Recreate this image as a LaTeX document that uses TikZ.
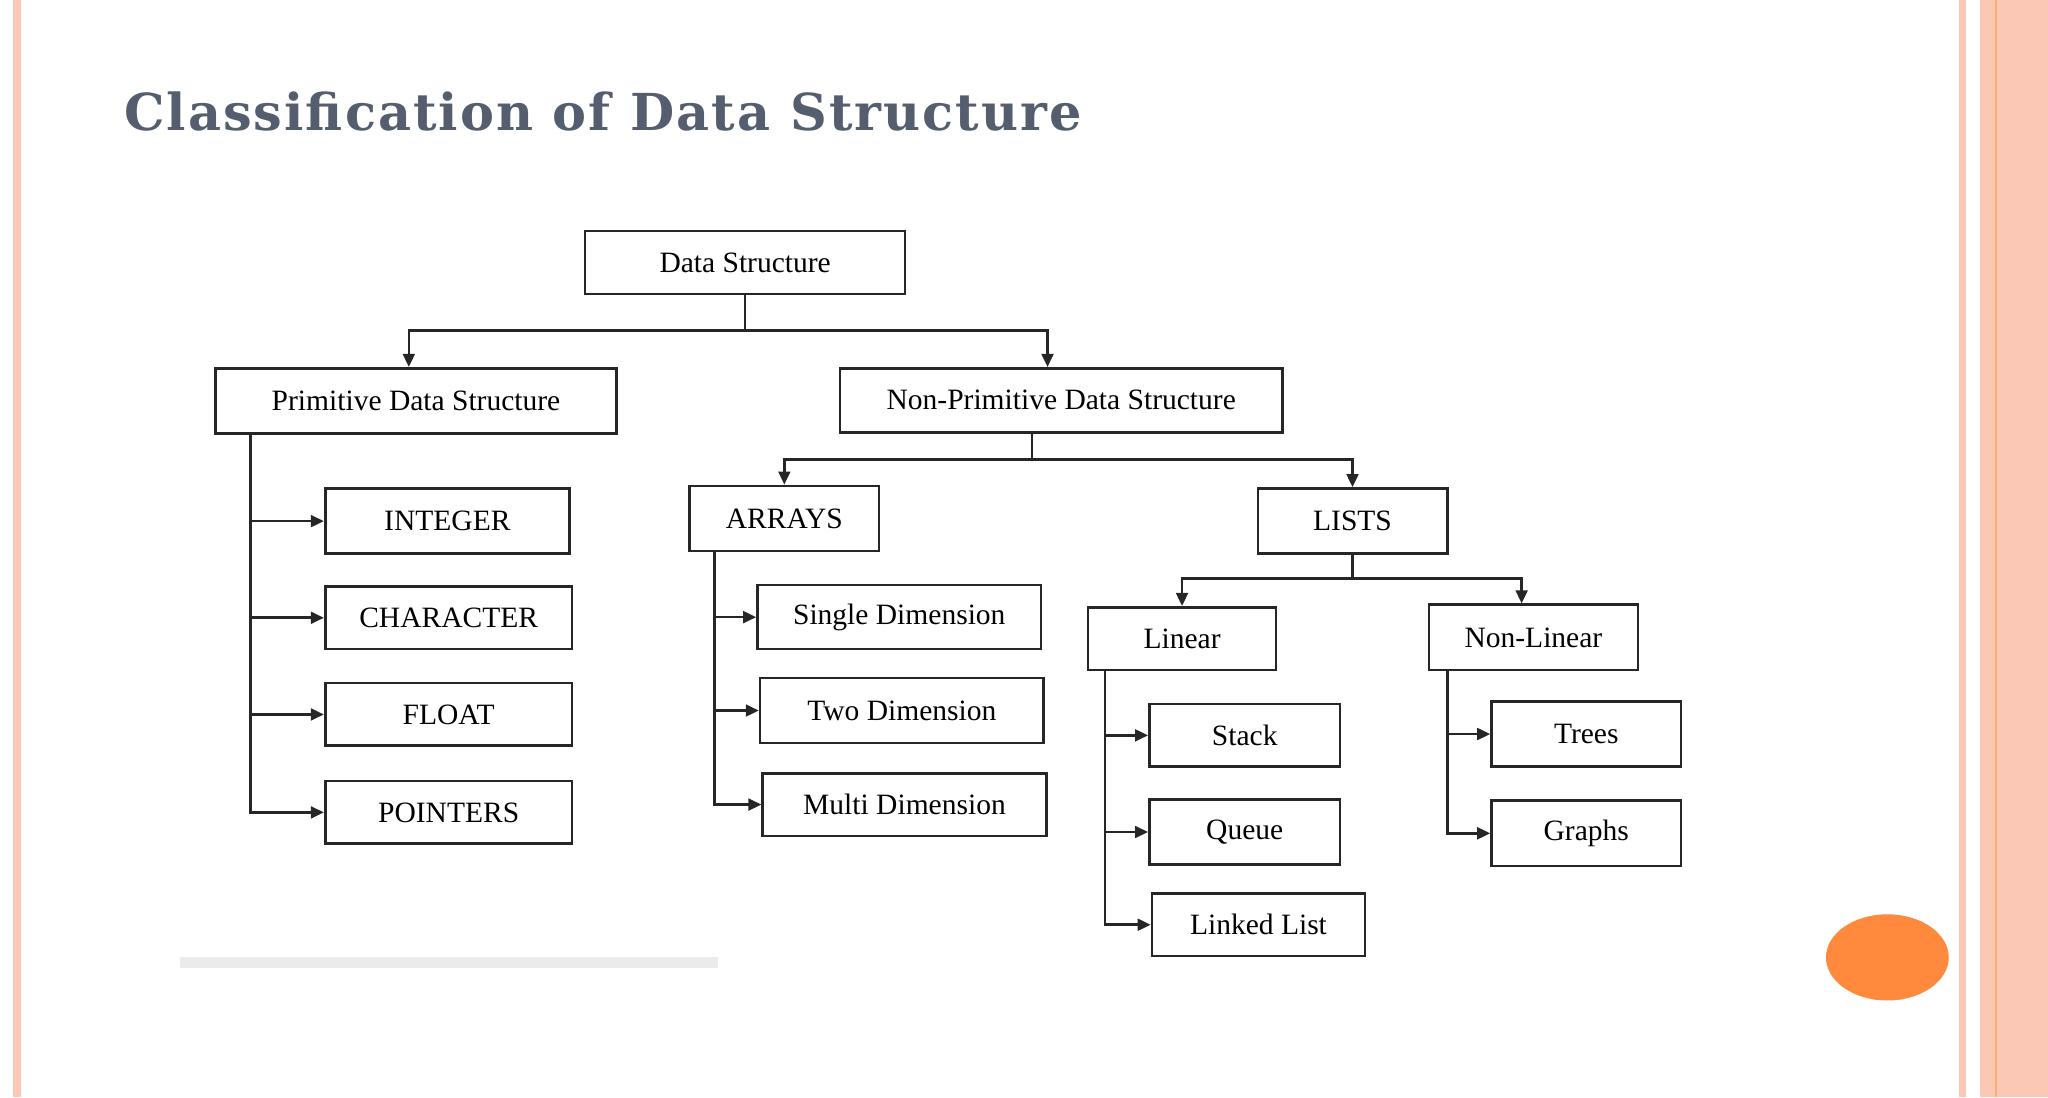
\documentclass[tikz,border=0pt]{standalone}
\usepackage{fontspec}
\setmainfont{Liberation Serif}
\newfontfamily\titlefont[LetterSpace=4]{DejaVu Serif}
\usetikzlibrary{arrows.meta}
\definecolor{pinkbar}{HTML}{FAC8B4}
\definecolor{orng}{HTML}{FF8A3D}
\definecolor{ttl}{HTML}{555E6E}
\begin{document}
\begin{tikzpicture}[x=0.5pt,y=-0.5pt,
 box/.style={draw=black!85,line width=1pt,inner sep=0pt,font=\fontsize{11.3}{12}\selectfont},
 arr/.style={draw=black!85,line width=1pt,-{Triangle[length=5pt,width=4.5pt]}},
 ln/.style={draw=black!85,line width=1pt}]
\useasboundingbox (0,0) rectangle (1568,840);
% page decorations
\fill[pinkbar] (10,0) rectangle (16,840);
\fill[pinkbar] (1500,0) rectangle (1505,840);
\fill[pinkbar] (1516,0) rectangle (1568,840);
\draw[orng!70,line width=0.6pt] (1528,0) -- (1528,840);
\fill[orng] (1445,733) ellipse [x radius=47, y radius=33];
\fill[black!8] (138,733) rectangle (550,741);
\node[anchor=west,text=ttl,font=\titlefont\bfseries\fontsize{19.5}{20}\selectfont] (title) at (88,85) {Classification of Data Structure};
% boxes: center, width, height
\newcommand\bx[6]{\node[box,minimum width=#4*0.5pt,minimum height=#5*0.5pt] (#1) at (#2,#3) {#6};}
\bx{ds}{570.5}{201}{245}{48}{Data Structure}
\bx{pds}{318.5}{307}{307}{50}{Primitive Data Structure}
\bx{npds}{812.5}{306.5}{339}{49}{Non-Primitive Data Structure}
\bx{int}{342.5}{399}{187}{50}{INTEGER}
\bx{chr}{343.5}{473}{189}{48}{CHARACTER}
\bx{flt}{343.5}{547}{189}{48}{FLOAT}
\bx{ptr}{343.5}{622}{189}{48}{POINTERS}
\bx{arr}{600.5}{397}{145}{50}{ARRAYS}
\bx{lst}{1035.5}{399}{145}{50}{LISTS}
\bx{sgl}{688.5}{472.5}{217}{49}{Single Dimension}
\bx{two}{690.5}{544}{217}{50}{Two Dimension}
\bx{mul}{692.5}{616}{217}{48}{Multi Dimension}
\bx{lin}{905}{489}{144}{48}{Linear}
\bx{nlin}{1174}{488}{160}{50}{Non-Linear}
\bx{stk}{953}{563}{146}{48}{Stack}
\bx{que}{953}{637}{146}{50}{Queue}
\bx{ll}{963.5}{708}{163}{48}{Linked List}
\bx{tre}{1214.5}{562}{145}{50}{Trees}
\bx{grp}{1214.5}{638}{145}{50}{Graphs}
% top-level connectors
\coordinate (j1) at (570.5,253);
\draw[ln] (ds.south) -- (j1);
\draw[arr] (j1) -| (pds.north -| 313,0);
\draw[arr] (j1) -| (npds.north -| 802,0);
\coordinate (j2) at (790,352);
\draw[ln] (npds.south -| j2) -- (j2);
\draw[arr] (j2) -| (arr.north);
\draw[arr] (j2) -| (lst.north);
\coordinate (j3) at (1035.5,443);
\draw[ln] (lst.south) -- (j3);
\draw[arr] (j3) -| (lin.north);
\draw[arr] (j3) -| (nlin.north -| 1165,0);
% vertical rails
\coordinate (p0) at (192,332);
\foreach \t in {int,chr,flt,ptr} \draw[arr] (p0) |- (\t.west);
\coordinate (a0) at (547,422);
\foreach \t in {sgl,two,mul} \draw[arr] (a0) |- (\t.west);
\coordinate (l0) at (846,513);
\foreach \t in {stk,que,ll} \draw[arr] (l0) |- (\t.west);
\coordinate (n0) at (1108,513);
\foreach \t in {tre,grp} \draw[arr] (n0) |- (\t.west);
\end{tikzpicture}
\end{document}
